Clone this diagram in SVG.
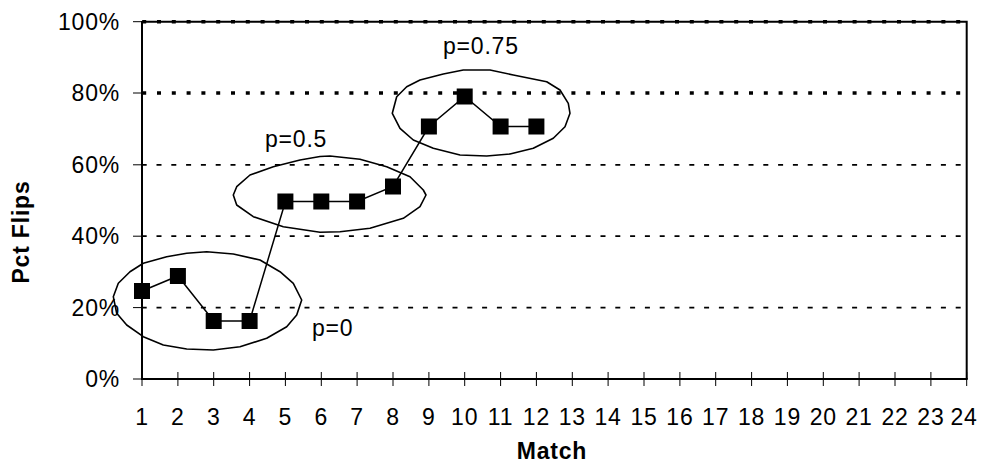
<svg xmlns="http://www.w3.org/2000/svg" width="982" height="464" viewBox="0 0 982 464">
<style>
text{font-family:"Liberation Sans",Arial,sans-serif;font-size:23px;fill:#000;letter-spacing:0.8px}
.b{font-weight:bold}
.m{text-anchor:middle}
.e{text-anchor:end}
.ax{stroke:#000;stroke-width:2;fill:none}
.tk{stroke:#000;stroke-width:1;fill:none}
.g1{stroke:#000;stroke-width:1.8;stroke-dasharray:5 9.8;fill:none}
.g2{stroke:#000;stroke-width:3.5;stroke-dasharray:4 10.8;fill:none}
.ser{stroke:#000;stroke-width:1.5;fill:none}
.mk{fill:#000}
.ov{stroke:#000;stroke-width:1.6;fill:none;stroke-linejoin:round}
</style>
<rect width="982" height="464" fill="#fff"/>
<g id="gridlines">
<line class="g2" x1="142.2" y1="21.7" x2="966" y2="21.7"/>
<line class="g2" x1="142.2" y1="93" x2="966" y2="93"/>
<line class="g1" x1="141.7" y1="164.8" x2="966" y2="164.8"/>
<line class="g1" x1="141.7" y1="236.2" x2="966" y2="236.2"/>
<line class="g1" x1="141.7" y1="307.6" x2="966" y2="307.6"/>
</g>
<g id="plot-frame">
<polyline class="ax" points="142,21.7 966.7,21.7 966.7,379"/>
<line class="ax" x1="142" y1="21" x2="142" y2="380"/>
<line class="ax" x1="141" y1="379" x2="967.7" y2="379"/>
</g>
<g id="y-ticks" class="tk">
<path d="M133 21.7H142M133 93H142M133 164.8H142M133 236.2H142M133 307.6H142M133 379H142"/>
</g>
<g id="x-ticks" class="tk">
<path d="M142 372V386M177.9 372V386M213.7 372V386M249.6 372V386M285.4 372V386M321.3 372V386M357.1 372V386M393 372V386M428.9 372V386M464.7 372V386M500.6 372V386M536.4 372V386M572.3 372V386M608.1 372V386M644 372V386M679.9 372V386M715.7 372V386M751.6 372V386M787.4 372V386M823.3 372V386M859.1 372V386M895 372V386M930.9 372V386M966.7 372V386"/>
</g>
<g id="y-labels">
<text class="e" x="120" y="29.5">100%</text>
<text class="e" x="120" y="101">80%</text>
<text class="e" x="120" y="172.5">60%</text>
<text class="e" x="120" y="244">40%</text>
<text class="e" x="120" y="315.5">20%</text>
<text class="e" x="120" y="387">0%</text>
</g>
<g id="x-labels">
<text class="m" x="142" y="425">1</text>
<text class="m" x="177.9" y="425">2</text>
<text class="m" x="213.7" y="425">3</text>
<text class="m" x="249.6" y="425">4</text>
<text class="m" x="285.4" y="425">5</text>
<text class="m" x="321.3" y="425">6</text>
<text class="m" x="357.1" y="425">7</text>
<text class="m" x="393" y="425">8</text>
<text class="m" x="428.9" y="425">9</text>
<text class="m" x="464.7" y="425">10</text>
<text class="m" x="500.6" y="425">11</text>
<text class="m" x="536.4" y="425">12</text>
<text class="m" x="572.3" y="425">13</text>
<text class="m" x="608.1" y="425">14</text>
<text class="m" x="644" y="425">15</text>
<text class="m" x="679.9" y="425">16</text>
<text class="m" x="715.7" y="425">17</text>
<text class="m" x="751.6" y="425">18</text>
<text class="m" x="787.4" y="425">19</text>
<text class="m" x="823.3" y="425">20</text>
<text class="m" x="859.1" y="425">21</text>
<text class="m" x="895" y="425">22</text>
<text class="m" x="930.9" y="425">23</text>
<text class="m" x="964" y="425">24</text>
</g>
<g id="axis-titles">
<text class="b m" x="552" y="459">Match</text>
<text class="b m" transform="translate(29 232) rotate(-90)">Pct Flips</text>
</g>
<g id="connectors">
<polyline class="ser" points="142,291 177.9,276 213.7,321 249.6,321 285.4,201.5 321.3,201.5 357.1,201.5 393,186.5 428.9,126.5 464.7,96.5 500.6,126.5 536.4,126.5"/>
</g>
<g id="markers" class="mk">
<rect x="134" y="283" width="16" height="16"/>
<rect x="169.9" y="268" width="16" height="16"/>
<rect x="205.7" y="313" width="16" height="16"/>
<rect x="241.6" y="313" width="16" height="16"/>
<rect x="277.4" y="193.5" width="16" height="16"/>
<rect x="313.3" y="193.5" width="16" height="16"/>
<rect x="349.1" y="193.5" width="16" height="16"/>
<rect x="385" y="178.5" width="16" height="16"/>
<rect x="420.9" y="118.5" width="16" height="16"/>
<rect x="456.7" y="88.5" width="16" height="16"/>
<rect x="492.6" y="118.5" width="16" height="16"/>
<rect x="528.4" y="118.5" width="16" height="16"/>
</g>
<g id="group-p0">
<polygon class="ov" points="113.3,296.7 118.3,283.3 130,271.7 143.3,263.3 166.7,256.7 186.7,253.3 206.7,251.7 233.3,254 260,260 280,271.7 293.3,283.3 301.7,300 296.7,315 286.7,326.7 266.7,338.3 240,346.7 213.3,350 186.7,349 163.3,345 143.3,336.7 126.7,325 116.7,313.3"/>
<text x="312" y="336">p=0</text>
</g>
<g id="group-p05">
<polygon class="ov" points="233.3,195 236.7,186.7 250,175 273.3,166.7 300,160 320,156.5 330,156 360,159.3 386.7,166.7 410,176.7 423.3,190 426,195 420,206.7 403.3,218.3 370,228.3 340,231.7 320,232.3 316.7,231.7 283.3,226.7 253.3,216.7 236.7,205"/>
<text x="265" y="146.5">p=0.5</text>
</g>
<g id="group-p075">
<polygon class="ov" points="392.3,113.3 396.7,96.7 406.7,86.7 420,80 443.3,74 463.3,70 490,70 513.3,75 546.7,81.7 560,90 568.3,103.3 570,113.3 565,126.7 553.3,138.3 533.3,148.3 510,154 486.7,156 460,155 433.3,148.3 413.3,140 400,128.3"/>
<text x="443" y="53.5">p=0.75</text>
</g>
</svg>
